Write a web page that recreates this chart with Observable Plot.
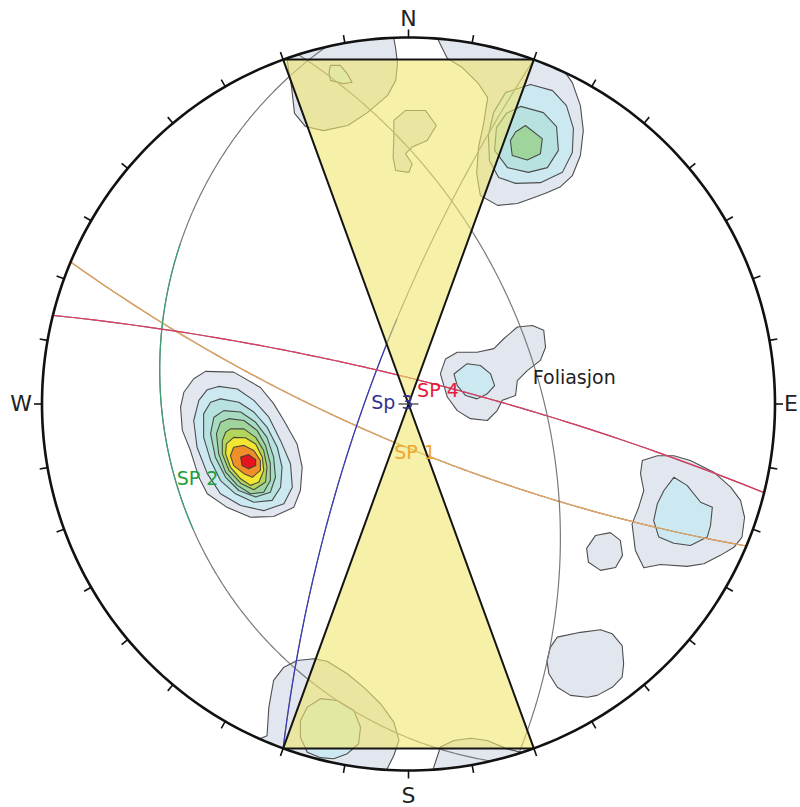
<!DOCTYPE html>
<html><head><meta charset="utf-8">
<script src="https://cdn.jsdelivr.net/npm/d3@7"></script>
<script src="https://cdn.jsdelivr.net/npm/@observablehq/plot@0.6"></script>
<style>html,body{margin:0;padding:0;background:#fff}#chart{width:800px;height:807px}</style>
</head><body><div id="chart"></div>
<script>
// ---------- DATA ----------
// planes (great circles): dip direction / dip (degrees), lower hemisphere, equal angle net
const planeNames   = ["SP 1", "SP 2", "Sp 3", "SP 4", "Foliasjon"];
const planeDipDirs = [202.8, 257, 290, 14, 72.5];
const planeDips    = [77.3, 22.5, 77, 82, 50.6];
// trend interval of each trace drawn in the set colour (rest drawn grey)
const planeColouredTrends = [[112.8, 292.8], [240, 305], [200, 352], [-76, 104], null];
// trend on each trace where its label sits
const planeLabelTrends = [200.5, 252.5, 270, 19.5, 78.7];

// lateral limits (hourglass) azimuth pairs
const hourglassLimits = [[340, 20], [160, 200]];
// compass
const tickAzimuths = d3.range(0, 360, 10);
const compassLabels = [["N", 0], ["E", 90], ["S", 180], ["W", 270]];

// density contours: [level, vertices in net coords (% of radius, x east, y north)]
const sp2Contours = [
 [1, [[-55.4,8.9],[-47.7,8.7],[-40.4,4.5],[-36.8,0.1],[-34.0,-4.5],[-30.4,-10.9],[-29.0,-17.2],[-29.5,-23.6],[-31.3,-28.2],[-36.8,-30.7],[-43.1,-30.9],[-49.5,-28.2],[-54.9,-24.5],[-57.2,-20.0],[-59.5,-12.7],[-61.7,-7.2],[-62.2,-0.9],[-61.3,3.2],[-58.6,6.9]]],
 [2, [[-51.8,4.8],[-46.7,4.1],[-42.2,1.0],[-38.1,-3.6],[-34.9,-10.0],[-32.2,-16.3],[-31.7,-22.7],[-34.0,-27.2],[-39.5,-29.1],[-45.8,-27.7],[-51.3,-24.5],[-54.9,-19.0],[-57.7,-11.8],[-58.6,-4.5],[-57.2,1.0],[-54.9,3.9]]],
 [3, [[-51.3,1.4],[-46.3,0.5],[-42.2,-2.2],[-38.6,-6.3],[-35.8,-11.8],[-34.5,-17.2],[-34.9,-22.7],[-37.2,-26.3],[-42.2,-26.8],[-47.2,-24.5],[-51.3,-20.9],[-54.0,-15.4],[-55.9,-9.1],[-55.9,-2.7],[-54.0,0.5]]],
 [4, [[-50.4,-1.8],[-45.8,-2.2],[-41.7,-5.0],[-38.6,-9.1],[-36.8,-14.5],[-36.3,-20.0],[-37.7,-24.1],[-41.7,-25.4],[-46.3,-23.6],[-49.9,-20.0],[-52.7,-14.5],[-54.0,-8.1],[-53.1,-3.6]]],
 [5, [[-49.0,-4.0],[-44.9,-4.5],[-41.3,-7.2],[-39.0,-11.3],[-37.7,-16.3],[-37.7,-20.9],[-39.5,-24.1],[-43.1,-24.5],[-46.7,-22.2],[-49.9,-18.6],[-51.8,-13.6],[-52.4,-8.1],[-51.3,-5.0]]],
 [6, [[-48.6,-6.8],[-44.9,-6.8],[-41.7,-9.1],[-39.5,-12.7],[-38.6,-17.2],[-39.0,-21.3],[-42.2,-23.4],[-45.8,-21.6],[-49.0,-18.1],[-50.8,-13.6],[-50.8,-10.0],[-49.9,-7.7]]],
 [7, [[-47.7,-9.1],[-44.5,-9.2],[-41.7,-10.9],[-39.9,-14.5],[-39.5,-18.1],[-40.8,-21.3],[-43.1,-22.2],[-45.8,-20.4],[-48.6,-17.2],[-49.9,-13.6],[-49.7,-10.9]]],
 [8, [[-47.7,-11.8],[-44.9,-11.3],[-42.2,-12.7],[-40.4,-15.4],[-40.4,-18.1],[-42.6,-20.0],[-44.9,-19.0],[-47.7,-16.8],[-48.6,-14.1]]],
 [9, [[-45.8,-14.5],[-43.6,-13.8],[-41.7,-15.2],[-41.7,-16.8],[-43.6,-17.7],[-45.4,-16.8]]]
];
const northEastContours = [
 [1, [[7.9,101.9],[7.9,99.7],[10.6,94.3],[14.7,91.8],[19.1,87.4],[21.6,83.6],[20.5,76.5],[19.1,70.0],[18.6,62.9],[19.6,56.9],[24.3,54.2],[29.7,54.7],[34.1,56.3],[37.9,57.7],[41.5,59.3],[44.7,62.3],[46.9,67.8],[47.7,74.6],[46.9,81.4],[44.7,87.7],[42.0,91.5],[42.8,99.2],[25.1,104.6]]],
 [2, [[26.5,85.0],[33.3,87.2],[39.3,85.5],[43.1,81.4],[45.0,75.2],[44.7,68.6],[42.0,63.2],[36.0,60.4],[29.2,60.2],[24.6,61.8],[22.1,66.4],[21.8,73.3],[23.2,79.5]]],
 [3, [[26.7,79.3],[30.6,81.2],[36.8,79.5],[40.4,75.7],[40.9,69.2],[37.9,64.5],[32.7,63.2],[27.0,64.5],[23.5,69.2],[24.0,75.4]]],
 [5, [[31.9,76.0],[36.5,72.4],[36.0,68.3],[32.4,66.6],[28.3,67.8],[27.8,71.9],[29.2,74.2]]]
];
const northContours = [
 [1, [[-33.4,96.5],[-32.7,91.0],[-31.9,86.4],[-31.1,79.3],[-28.1,75.7],[-23.2,74.6],[-16.6,76.0],[-11.2,79.5],[-5.7,84.2],[-3.5,88.3],[-3.0,92.9],[-3.5,97.0],[-4.4,101.9],[-18.6,107.4],[-34.0,104.0]]],
 [2, [[-21.3,92.4],[-18.6,92.4],[-16.7,90.1],[-15.4,87.8],[-17.7,87.4],[-21.3,88.3],[-21.7,90.5]]],
 [1, [[-4.0,77.4],[-0.8,80.1],[4.6,80.1],[7.6,76.0],[5.1,71.9],[1.0,70.1],[-0.8,68.3],[1.0,65.5],[0.1,63.2],[-3.5,63.7],[-4.2,67.3],[-4.0,72.8]]]
];
const centreContours = [
 [1, [[8.7,8.2],[10.1,12.3],[13.3,14.1],[18.7,14.1],[23.3,15.1],[26.0,17.8],[29.7,21.0],[33.8,21.4],[36.9,20.1],[37.4,15.5],[36.0,11.9],[32.4,9.1],[29.7,6.4],[29.2,2.3],[25.6,1.0],[24.2,-1.8],[21.5,-4.5],[16.9,-4.0],[13.3,-1.8],[10.6,1.9]]],
 [2, [[12.4,8.2],[16.0,11.0],[19.6,10.5],[22.4,8.2],[23.5,5.0],[21.5,2.8],[18.7,1.4],[15.6,2.3],[13.3,5.0]]]
];
const eastContours = [
 [1, [[63.8,-15.4],[67.9,-14.1],[72.4,-14.1],[76.9,-15.4],[83.3,-18.6],[87.9,-22.7],[90.6,-26.3],[91.7,-30.9],[91.0,-36.3],[88.8,-39.1],[85.1,-41.3],[80.6,-43.6],[76.0,-44.3],[68.8,-43.8],[64.2,-44.7],[61.9,-40.0],[61.0,-32.7],[62.8,-28.2],[64.2,-23.6],[63.3,-19.0]]],
 [2, [[72.4,-20.0],[76.0,-22.2],[79.7,-26.8],[82.9,-28.2],[82.4,-33.2],[81.5,-36.3],[76.9,-38.6],[72.4,-38.0],[68.3,-36.3],[66.9,-31.8],[67.9,-27.2],[69.7,-23.6]]],
 [1, [[51.0,-35.9],[55.1,-35.1],[57.8,-37.2],[58.4,-41.3],[56.5,-44.6],[52.4,-45.4],[49.1,-43.2],[48.6,-39.4]]],
 [1, [[40.6,-63.6],[46.9,-62.3],[52.4,-61.6],[55.6,-62.7],[58.3,-65.9],[58.7,-70.9],[58.3,-74.5],[55.6,-77.3],[51.5,-79.5],[48.8,-80.0],[44.2,-79.5],[40.6,-77.3],[38.3,-73.6],[37.8,-70.0],[38.7,-66.4]]]
];
const southContours = [
 [1, [[-38.6,-90.5],[-38.1,-82.7],[-36.8,-75.4],[-34.0,-71.8],[-30.4,-70.0],[-25.8,-69.5],[-22.2,-70.2],[-16.7,-73.6],[-12.2,-77.3],[-7.6,-81.8],[-4.0,-86.8],[-2.6,-91.8],[-4.0,-95.9],[-5.8,-99.5],[-6.3,-105.5],[-40.4,-102.7],[-41.7,-91.8]]],
 [2, [[-27.6,-82.7],[-24.0,-80.4],[-19.5,-80.9],[-14.9,-83.6],[-13.1,-88.2],[-13.6,-92.7],[-16.7,-95.4],[-20.4,-96.8],[-24.0,-96.5],[-27.6,-95.0],[-29.5,-90.9],[-29.5,-86.4]]],
 [1, [[6.9,-99.1],[8.7,-93.6],[12.4,-91.8],[16.9,-91.2],[21.5,-91.8],[26.9,-94.1],[32.4,-95.4],[37.4,-100.0],[6.0,-104.1]]]
];

// ---------- STYLES ----------
const levelFill = {1:"#e2e6ee",2:"#cce9f1",3:"#b7e2e0",4:"#a7dbc2",5:"#9fd59c",6:"#b3d55c",7:"#f2e630",8:"#f08e2a",9:"#e6141e"};
const planeStroke = {"SP 1":"#e9a45a","SP 2":"#3f9f72","Sp 3":"#3b3bb8","SP 4":"#e03a62","Foliasjon":"#6f6f6f"};
const labelFill = {"SP 1":"#f0a62e","SP 2":"#22a03e","Sp 3":"#33338f","SP 4":"#e3203e","Foliasjon":"#222"};
const labelOffset = {"SP 1":[0,11],"SP 2":[2,1],"Sp 3":[7,-1],"SP 4":[0,11],"Foliasjon":[-5,0]};
const compassOffset = {N:[0,-19],E:[16,0],S:[0,25],W:[-21,0]};
const FONT = "DejaVu Sans, Verdana, sans-serif";
const R_PX = 366.5;

// ---------- GEOMETRY ----------
const rad = Math.PI / 180;
const project = (trend, plunge) => { const r = Math.tan((90 - plunge) / 2 * rad); return [r * Math.sin(trend * rad), r * Math.cos(trend * rad)]; };
const apparentPlunge = (dd, dip, t) => Math.atan(Math.tan(dip * rad) * Math.cos((t - dd) * rad)) / rad;
function trace(dd, dip, t0, t1) {
  const pts = []; const n = Math.ceil((t1 - t0) / 0.5);
  for (let i = 0; i <= n; i++) { const t = t0 + (t1 - t0) * i / n; pts.push(project(t, apparentPlunge(dd, dip, t))); }
  return pts;
}
const onCircle = a => [Math.sin(a * rad), Math.cos(a * rad)];

// ---------- MARKS ----------
const marks = [];
const allContours = [...northContours, ...northEastContours, ...centreContours, ...sp2Contours, ...eastContours, ...southContours];
for (const [level, pts] of allContours) {
  marks.push(Plot.line(pts, {x: d => d[0] / 100, y: d => d[1] / 100, curve: "linear-closed",
    fill: levelFill[level], stroke: "#3c3c3c", strokeWidth: 1.1, strokeOpacity: 0.9}));
}
planeNames.forEach((name, i) => {
  const dd = planeDipDirs[i], dip = planeDips[i];
  marks.push(Plot.line(trace(dd, dip, dd - 90, dd + 90), {x: d => d[0], y: d => d[1], stroke: "#7a7a7a", strokeWidth: 1.2}));
  const seg = planeColouredTrends[i];
  if (seg) marks.push(Plot.line(trace(dd, dip, seg[0], seg[1]), {x: d => d[0], y: d => d[1], stroke: planeStroke[name], strokeWidth: 1.2}));
});
for (const [a0, a1] of hourglassLimits) {
  marks.push(Plot.line([[0, 0], onCircle(a0), onCircle(a1)], {x: d => d[0], y: d => d[1], curve: "linear-closed",
    fill: "#f0e66e", fillOpacity: 0.6, stroke: "#141414", strokeWidth: 2, strokeLinejoin: "miter"}));
}
marks.push(Plot.dot([[0, 0]], {x: d => d[0], y: d => d[1], fill: "none", stroke: "#333", strokeWidth: 1.2,
  symbol: {draw(ctx) { ctx.moveTo(-10, 0); ctx.lineTo(10, 0); }}}));
planeNames.forEach((name, i) => {
  const t = planeLabelTrends[i];
  const p = project(t, apparentPlunge(planeDipDirs[i], planeDips[i], t));
  marks.push(Plot.text([p], {x: d => d[0], y: d => d[1], text: () => name, textAnchor: "start",
    dx: labelOffset[name][0], dy: labelOffset[name][1], fill: labelFill[name], fontSize: 19, fontFamily: FONT}));
});
marks.push(Plot.line(d3.range(0, 361, 1).map(onCircle), {x: d => d[0], y: d => d[1], stroke: "#111", strokeWidth: 2.6}));
const tickOuter = 1 + 8 / R_PX;
marks.push(Plot.link(tickAzimuths, {x1: a => onCircle(a)[0], y1: a => onCircle(a)[1],
  x2: a => onCircle(a)[0] * tickOuter, y2: a => onCircle(a)[1] * tickOuter, stroke: "#111", strokeWidth: 1.6}));
for (const [lab, a] of compassLabels) {
  marks.push(Plot.text([onCircle(a)], {x: d => d[0], y: d => d[1], text: () => lab, dx: compassOffset[lab][0], dy: compassOffset[lab][1],
    fill: "#222", fontSize: 22, fontFamily: FONT}));
}

const W = 800, H = 807, cx = 408, cy = 403.5;
const plot = Plot.plot({
  width: W, height: H, margin: 0,
  x: {domain: [-cx / R_PX, (W - cx) / R_PX], axis: null},
  y: {domain: [(cy - H) / R_PX, cy / R_PX], axis: null},
  style: {background: "#fff", fontFamily: FONT, overflow: "visible"},
  marks
});
document.getElementById("chart").appendChild(plot);

// clip density contours to the primitive circle
const ns = "http://www.w3.org/2000/svg";
const defs = document.createElementNS(ns, "defs");
const cp = document.createElementNS(ns, "clipPath"); cp.setAttribute("id", "netclip");
const circ = document.createElementNS(ns, "circle");
const sx = plot.scale("x"), sy = plot.scale("y");
circ.setAttribute("cx", sx.apply(0)); circ.setAttribute("cy", sy.apply(0)); circ.setAttribute("r", sx.apply(1) - sx.apply(0));
cp.appendChild(circ); defs.appendChild(cp); plot.insertBefore(defs, plot.firstChild);
const lineGroups = plot.querySelectorAll('g[aria-label="line"]');
for (let i = 0; i < allContours.length && i < lineGroups.length; i++) lineGroups[i].setAttribute("clip-path", "url(#netclip)");
</script>
</body></html>
